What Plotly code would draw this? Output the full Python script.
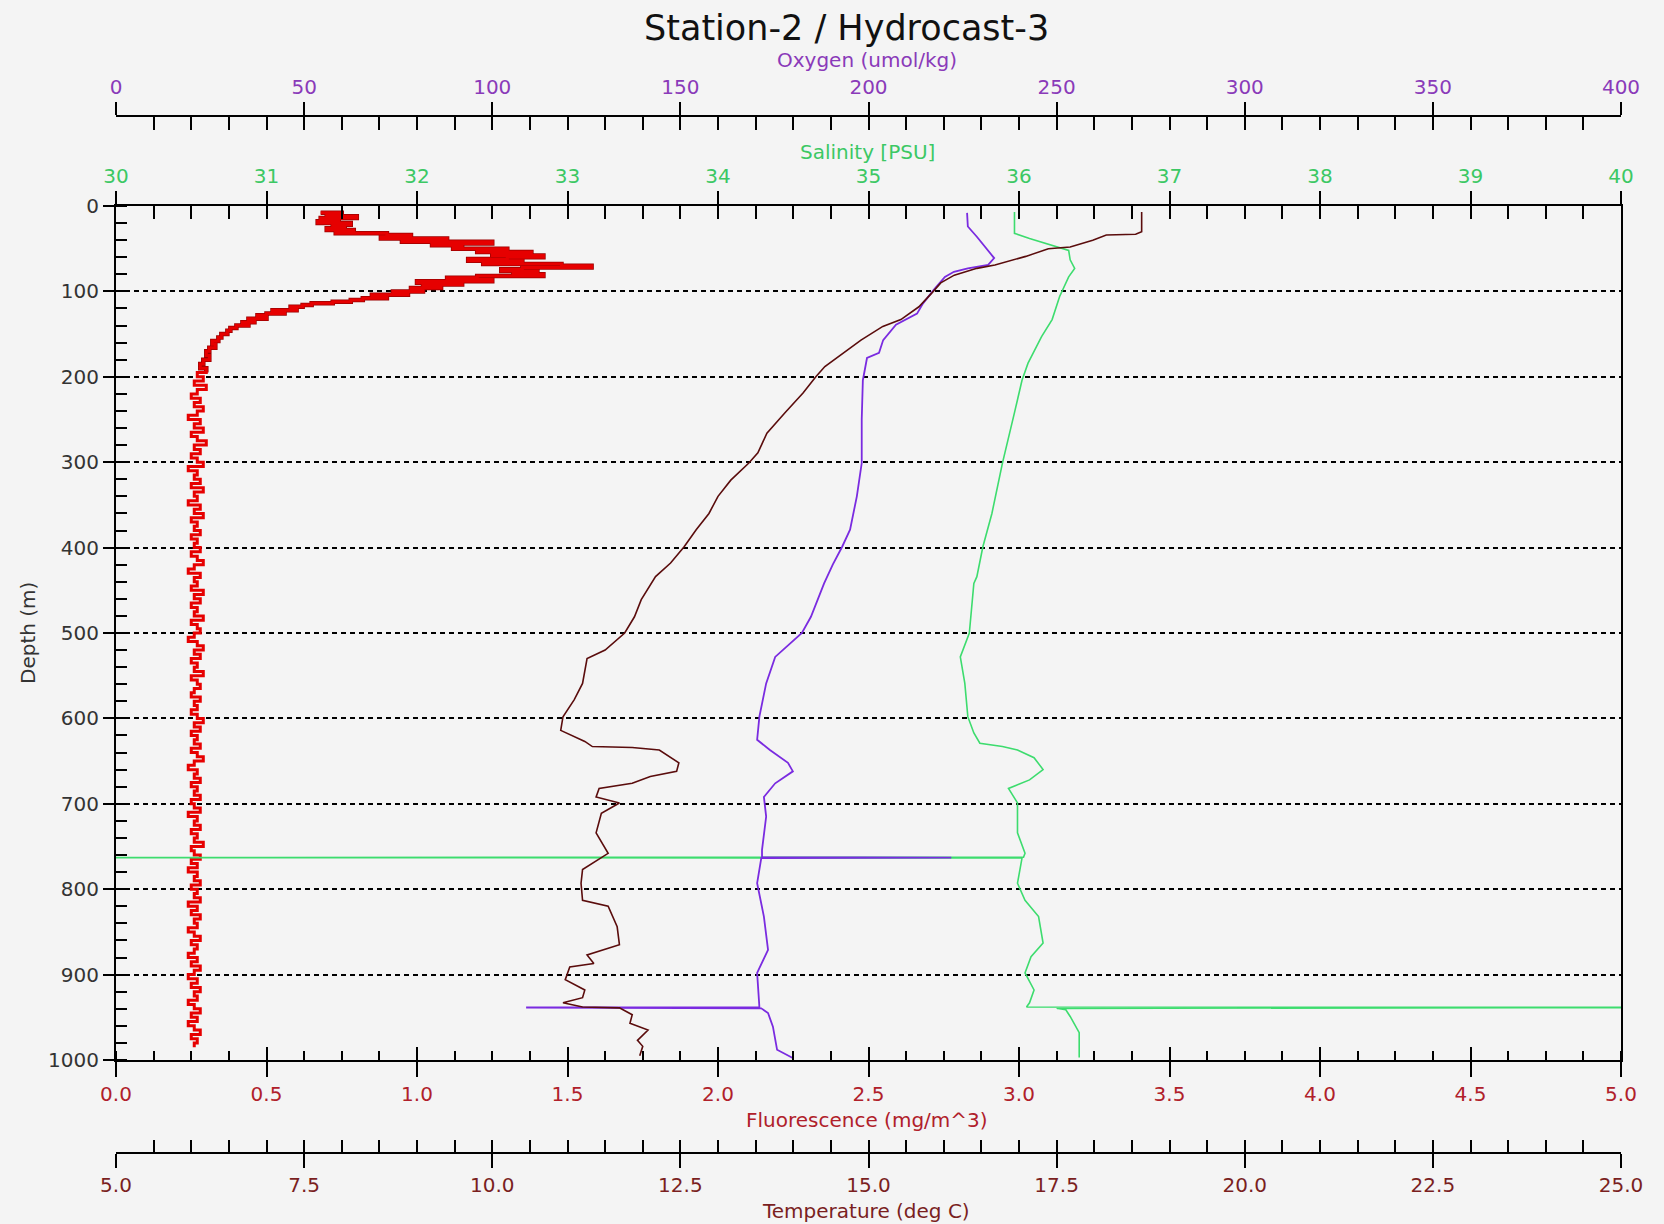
import plotly.graph_objects as go

# ---------------- data ----------------
FLUOR_DEPTH_TOP = [8, 10, 12, 14, 16, 18, 20, 22, 24, 26, 28, 30, 32, 34, 36, 38, 40, 42, 44, 46,
                   48, 50, 52, 54, 56, 58, 60, 62, 64, 66, 68, 70, 72, 74, 76, 78, 80, 82, 84, 86,
                   88, 90, 92, 94, 96, 98, 100, 102, 104, 106, 108, 110, 112, 114, 116, 118, 120, 122, 124, 126,
                   128, 130, 132, 134, 136, 138, 140, 143, 146, 150, 154, 158, 162, 166, 170, 175, 180, 185, 190, 195]
FLUOR_VALUE_TOP = [0.68, 0.75, 0.70, 0.80, 0.68, 0.74, 0.67, 0.78, 0.72, 0.76,
                   0.70, 0.79, 0.73, 0.90, 0.98, 0.88, 1.10, 0.95, 1.25, 1.05,
                   1.15, 1.12, 1.30, 1.20, 1.38, 1.25, 1.42, 1.30, 1.17, 1.35,
                   1.22, 1.48, 1.58, 1.35, 1.28, 1.40, 1.32, 1.42, 1.20, 1.10,
                   1.25, 1.00, 1.15, 1.02, 1.08, 0.98, 1.02, 0.92, 0.97, 0.85,
                   0.90, 0.82, 0.78, 0.72, 0.65, 0.62, 0.58, 0.60, 0.52, 0.56,
                   0.50, 0.47, 0.50, 0.44, 0.46, 0.42, 0.44, 0.40, 0.38, 0.37,
                   0.35, 0.34, 0.32, 0.33, 0.31, 0.30, 0.31, 0.29, 0.28, 0.30]
FLUOR_DEPTH_DEEP = list(range(200, 990, 5))   # sampling depths of the deep part
FLUOR_VALUE_DEEP = [0.27, 0.29, 0.26, 0.30, 0.27, 0.25, 0.28, 0.26, 0.29, 0.27,
                    0.24, 0.28, 0.26, 0.29, 0.25, 0.27, 0.30, 0.26, 0.28, 0.25,
                    0.27, 0.29, 0.24, 0.27, 0.26, 0.28, 0.25, 0.29, 0.26, 0.27,
                    0.24, 0.28, 0.26, 0.29, 0.25, 0.27, 0.26, 0.28, 0.25, 0.27,
                    0.26, 0.28, 0.25, 0.27, 0.29, 0.26, 0.24, 0.28, 0.26, 0.27,
                    0.25, 0.29, 0.26, 0.28, 0.25, 0.27, 0.26, 0.29, 0.25, 0.27,
                    0.28, 0.26, 0.24, 0.27, 0.29, 0.26, 0.28, 0.25, 0.27, 0.26,
                    0.29, 0.25, 0.27, 0.28, 0.26, 0.25, 0.28, 0.26, 0.27, 0.25,
                    0.27, 0.29, 0.26, 0.28, 0.25, 0.27, 0.26, 0.28, 0.25, 0.27,
                    0.29, 0.26, 0.24, 0.27, 0.26, 0.28, 0.25, 0.27, 0.26, 0.28,
                    0.25, 0.26, 0.28, 0.24, 0.27, 0.26, 0.28, 0.25, 0.27, 0.26,
                    0.29, 0.25, 0.26, 0.28, 0.25, 0.27, 0.24, 0.27, 0.26, 0.28,
                    0.25, 0.27, 0.26, 0.28, 0.24, 0.27, 0.25, 0.28, 0.26, 0.27,
                    0.24, 0.26, 0.28, 0.25, 0.27, 0.26, 0.24, 0.27, 0.25, 0.28,
                    0.26, 0.24, 0.27, 0.25, 0.28, 0.26, 0.27, 0.24, 0.26, 0.28,
                    0.25, 0.27, 0.24, 0.26, 0.28, 0.25, 0.27, 0.26]

TEMP_DEPTH = [7, 30, 33, 34, 40, 48, 50, 59, 69, 73, 81, 90, 102, 118, 133, 141, 157, 172, 188, 200, 219,
              242, 266, 289, 301, 321, 340, 360, 379, 399, 418, 434, 461, 481, 500, 520, 530, 559, 578, 598, 614,
              627, 633, 634, 637, 652, 662, 668, 676, 682, 692, 699, 711, 734, 758, 777, 793, 813, 820, 844, 865,
              877, 887, 891, 906, 918, 927, 933, 938, 939, 947, 957, 965, 977, 984, 995]
TEMP_VALUE = [18.63, 18.63, 18.55, 18.16, 17.98, 17.68, 17.39, 17.09, 16.68, 16.44, 16.14,
              15.96, 15.84, 15.67, 15.43, 15.19, 14.90, 14.66, 14.42, 14.30, 14.13,
              13.89, 13.65, 13.53, 13.41, 13.17, 13.00, 12.88, 12.71, 12.55, 12.37,
              12.17, 11.98, 11.89, 11.76, 11.50, 11.26, 11.20, 11.09, 10.94, 10.91,
              11.23, 11.33, 11.86, 12.22, 12.48, 12.45, 12.10, 11.86, 11.42, 11.38,
              11.69, 11.45, 11.38, 11.54, 11.20, 11.18, 11.20, 11.54, 11.66, 11.69,
              11.26, 11.35, 11.03, 10.97, 11.23, 11.20, 10.94, 11.20, 11.69, 11.86,
              11.83, 12.07, 11.93, 12.00, 11.96]

SAL_DEPTH = [7, 32, 38, 46, 52, 63, 73, 83, 106, 133, 153, 184, 204, 242, 301, 360, 399, 434, 442, 500,
             528, 559, 598, 617, 629, 633, 637, 646, 660, 672, 682, 699, 734, 758, 762.5, 763, 763.5, 793, 813, 832,
             863, 879, 898, 918, 933, 938, 938.5, 939.5, 941, 949, 968, 997]
SAL_VALUE = [35.97, 35.97, 36.07, 36.22, 36.33, 36.34, 36.37, 36.33, 36.27, 36.22,
             36.15, 36.06, 36.02, 35.97, 35.89, 35.82, 35.76, 35.72, 35.70, 35.67,
             35.61, 35.64, 35.66, 35.70, 35.74, 35.89, 35.99, 36.10, 36.16, 36.07,
             35.93, 35.99, 35.99, 36.04, 36.03, 29.00, 36.02, 35.99, 36.04, 36.13,
             36.16, 36.08, 36.04, 36.10, 36.07, 36.05, 41.00, 36.25, 36.31, 36.34,
             36.40, 36.40]

OXY_DEPTH = [8, 24, 36, 54, 61, 69, 73, 77, 83, 98, 114, 126, 139, 157, 172, 178, 204, 250, 301, 340,
             379, 399, 420, 442, 481, 500, 528, 559, 598, 625, 637, 652, 662, 676, 692, 715, 754, 762.5, 763, 763.5,
             793, 832, 871, 898, 938, 938.5, 939.5, 945, 961, 988, 998]
OXY_VALUE = [226.2, 226.4, 228.8, 232.3, 233.4, 231.8, 226.4, 222.7, 220.3, 217.4,
             214.5, 212.9, 207.3, 203.9, 202.8, 199.6, 198.5, 198.2, 198.2, 196.9,
             195.1, 193.0, 190.5, 188.2, 184.7, 182.3, 175.2, 172.8, 171.0, 170.4,
             173.8, 178.6, 179.9, 175.2, 172.2, 172.8, 171.7, 171.7, 222.0, 171.5,
             170.4, 172.2, 173.3, 170.4, 171.0, 109.0, 171.5, 173.3, 174.6, 175.7,
             180.0]

TITLE = "Station-2 / Hydrocast-3"

# ---------------- layout geometry ----------------
W, H = 1664, 1224
L, R, T, B = 116, 43, 116, 71
PW = W - L - R
PH = H - T - B


def fx(px):
    return (px - L) / PW


def fy(py):
    return (H - B - py) / PH


BG = "#f4f4f4"
C_FLU = "#b0202a"
C_TMP = "#7a1f1f"
C_SAL = "#3cc864"
C_OXY = "#8a3ab9"
FONT = "DejaVu Sans"

fig = go.Figure()
fd = FLUOR_DEPTH_TOP + FLUOR_DEPTH_DEEP
fv = FLUOR_VALUE_TOP + FLUOR_VALUE_DEEP
fig.add_trace(go.Scatter(x=FLUOR_VALUE_TOP, y=FLUOR_DEPTH_TOP, xaxis="x", yaxis="y", mode="lines",
                         line=dict(color="#9a0000", width=4.5, shape="hv"), hoverinfo="skip"))
fig.add_trace(go.Scatter(x=fv, y=fd, xaxis="x", yaxis="y", mode="lines",
                         line=dict(color="#e60000", width=3, shape="hv"), hoverinfo="skip"))
fig.add_trace(go.Scatter(x=TEMP_VALUE, y=TEMP_DEPTH, xaxis="x7", yaxis="y", mode="lines",
                         line=dict(color="#5a0c0c", width=1.6)))
fig.add_trace(go.Scatter(x=SAL_VALUE, y=SAL_DEPTH, xaxis="x3", yaxis="y", mode="lines",
                         line=dict(color="#3ddc6e", width=1.6)))
fig.add_trace(go.Scatter(x=OXY_VALUE, y=OXY_DEPTH, xaxis="x5", yaxis="y", mode="lines",
                         line=dict(color="#7a2be0", width=1.8)))
# empty traces so the tick-only overlay axes are drawn
for ax in ("x2", "x4", "x6", "x8"):
    fig.add_trace(go.Scatter(x=[], y=[], xaxis=ax, yaxis="y", mode="lines", hoverinfo="skip"))

base = dict(showgrid=False, zeroline=False, tickcolor="black", tickwidth=2,
            linecolor="black", linewidth=2, fixedrange=True)


def main_axis(rng, dtick, side, ticklen, color, fmt, anchor="y", position=None, overlay=True):
    d = dict(base, range=list(rng), autorange=False, dtick=dtick, tick0=rng[0], side=side,
             ticks="outside", ticklen=ticklen, showline=True, tickformat=fmt,
             tickfont=dict(family=FONT, size=20, color=color), anchor=anchor)
    if position is not None:
        d["position"] = position
    if overlay:
        d["overlaying"] = "x"
    return d


def inner_axis(rng, dtick, side, ticklen, anchor="y", position=None):
    d = dict(base, range=list(rng), autorange=False, dtick=dtick, tick0=rng[0], side=side,
             ticks="inside", ticklen=ticklen, showline=False, showticklabels=False,
             anchor=anchor, overlaying="x")
    if position is not None:
        d["position"] = position
    return d


xaxis = main_axis((0, 5), 0.5, "bottom", 15, C_FLU, ".1f", overlay=False)
xaxis["minor"] = dict(ticks="inside", dtick=0.125, tick0=0, ticklen=9, tickwidth=2, tickcolor="black")

fig.update_layout(
    width=W, height=H,
    margin=dict(l=L, r=R, t=T, b=B, pad=0),
    paper_bgcolor=BG, plot_bgcolor=BG, showlegend=False,
    font=dict(family=FONT, size=20, color="#333333"),
    yaxis=dict(domain=[fy(1060), fy(206)], range=[1000, 0], autorange=False, tick0=0, dtick=100,
               ticks="outside", ticklen=11, tickwidth=2, tickcolor="black",
               showline=True, mirror=True, linecolor="black", linewidth=2,
               showgrid=True, gridcolor="black", gridwidth=2, griddash="5px,4px", zeroline=False,
               tickfont=dict(family=FONT, size=20, color="#333333"), fixedrange=True,
               minor=dict(ticks="inside", dtick=20, tick0=0, ticklen=11, tickwidth=2,
                          tickcolor="black", showgrid=False)),
    xaxis=xaxis,
    xaxis2=inner_axis((0, 5), 0.5, "bottom", 13),
    xaxis3=main_axis((30, 40), 1, "top", 13, C_SAL, "d"),
    xaxis4=inner_axis((30, 40), 0.25, "top", 13),
    xaxis5=main_axis((0, 400), 50, "top", 13, C_OXY, "d", anchor="free", position=1),
    xaxis6=inner_axis((0, 400), 10, "top", 13, anchor="free", position=1),
    xaxis7=main_axis((5, 25), 2.5, "bottom", 14, C_TMP, ".1f", anchor="free", position=0),
    xaxis8=inner_axis((5, 25), 0.5, "bottom", 13, anchor="free", position=0),
)

ann = [
    (TITLE, 846, 28, 35, "#111111", 0),
    ("Oxygen (umol/kg)", 867, 60, 20, C_OXY, 0),
    ("Salinity [PSU]", 867, 152, 20, C_SAL, 0),
    ("Fluorescence (mg/m^3)", 867, 1120, 20, C_FLU, 0),
    ("Temperature (deg C)", 866, 1211, 20, C_TMP, 0),
    ("Depth (m)", 28, 633, 20, "#333333", -90),
]
for text, px, py, size, color, ang in ann:
    fig.add_annotation(text=text, xref="paper", yref="paper", x=fx(px), y=fy(py),
                       xanchor="center", yanchor="middle", showarrow=False, textangle=ang,
                       font=dict(family=FONT, size=size, color=color))

fig.write_html("out.html")
